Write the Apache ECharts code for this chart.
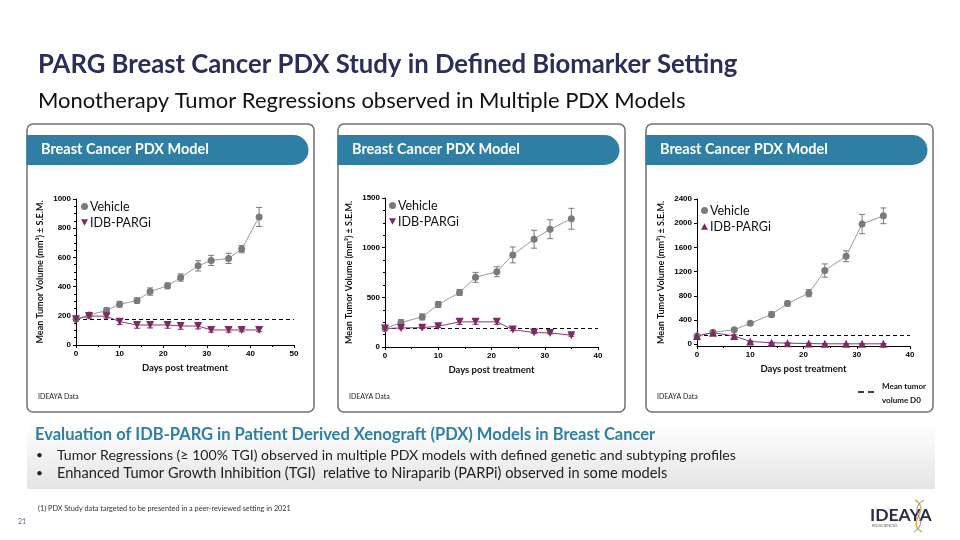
<!DOCTYPE html>
<html><head><meta charset="utf-8">
<script src="https://cdn.jsdelivr.net/npm/echarts@6/dist/echarts.min.js"></script>
<style>html,body{margin:0;padding:0;background:#fff}#c{width:960px;height:540px}</style>
</head><body><div id="c"></div>
<script>
// ---- Data ----
const days1 = [0,3,7,10,14,17,21,24,28,31,35,38,42];
const veh1 = [176,206,236,279,304,366,405,462,542,579,593,657,877];
const veh1Err = [12,12,20,20,18,25,20,25,35,35,35,25,65];
const idb1 = [176,199,197,160,137,137,137,130,130,103,103,103,103];
const idb1Err = [12,15,12,20,22,20,22,22,20,15,15,12,12];
const d0_1 = 176;

const days2 = [0,3,7,10,14,17,21,24,28,31,35];
const veh2 = [185,246,303,428,549,701,758,927,1085,1186,1291];
const veh2Err = [20,30,30,30,30,50,50,80,90,95,105];
const idb2 = [185,192,195,209,253,253,253,175,145,142,118];
const idb2Err = [15,10,10,12,25,25,25,12,10,10,10];
const d0_2 = 185;

const days3 = [0,3,7,10,14,17,21,24,28,31,35];
const veh3 = [136,198,238,345,492,673,843,1217,1454,1986,2122];
const veh3Err = [15,20,20,25,45,40,60,110,90,160,130];
const idb3 = [136,190,136,45,23,17,11,6,6,6,6];
const idb3Err = [10,15,20,10,8,5,5,5,5,5,5];
const d0_3 = 150;

const yTicks3 = [0,400,800,1200,1600,2000,2400];
const seriesNames = ['Vehicle','IDB-PARGi'];

// ---- Style ----
const GRAY = '#7a7a7a', GRAYLINE = '#9a9a9a', PURPLE = '#7b2b62', PURPLELINE = '#8a3a72';
const TEAL = '#2f7fa5', NAVY = '#2b2d5a';
const F = 'Lato, "Open Sans", sans-serif';
const AF = '"Liberation Sans", Arial, sans-serif';

function pts(x, y) { return x.map((d, i) => [d, y[i]]); }
function errPts(x, y, e) { return x.map((d, i) => [d, y[i], e[i]]); }

function errSeries(idx, data, color) {
  return {
    type: 'custom', xAxisIndex: idx, yAxisIndex: idx, silent: true, z: 1,
    data: data,
    renderItem: function (params, api) {
      const x = api.value(0), y = api.value(1), e = api.value(2);
      const top = api.coord([x, y + e]), bot = api.coord([x, y - e]);
      const w = 3;
      return { type: 'group', children: [
        { type: 'line', shape: { x1: top[0], y1: top[1], x2: bot[0], y2: bot[1] }, style: { stroke: color, lineWidth: 1 } },
        { type: 'line', shape: { x1: top[0]-w, y1: top[1], x2: top[0]+w, y2: top[1] }, style: { stroke: color, lineWidth: 1 } },
        { type: 'line', shape: { x1: bot[0]-w, y1: bot[1], x2: bot[0]+w, y2: bot[1] }, style: { stroke: color, lineWidth: 1 } }
      ]};
    }
  };
}

function lineSeries(idx, name, data, color, lineColor, symbol, rotate, d0) {
  const s = {
    type: 'line', name: name, xAxisIndex: idx, yAxisIndex: idx, data: data,
    symbol: symbol, symbolSize: symbol === 'circle' ? 7 : 8, symbolRotate: rotate,
    itemStyle: { color: color }, lineStyle: { color: lineColor, width: 1 },
    z: 3, silent: true, animation: false
  };
  if (d0 !== undefined) {
    s.markLine = { silent: true, symbol: 'none', label: { show: false },
      lineStyle: { type: [4, 3], color: '#000', width: 1.2 },
      data: [{ yAxis: d0 }], z: 2 };
  }
  return s;
}

const grids = [
  { left: 76, top: 199, width: 218, height: 146 },
  { left: 385, top: 198, width: 213, height: 149 },
  { left: 697, top: 199, width: 213, height: 147 }
];

function plain(v) { return String(v); }

function xAxisCfg(idx, max) {
  return {
    type: 'value', gridIndex: idx, min: 0, max: max, interval: 10,
    name: 'Days post treatment', nameLocation: 'middle', nameGap: 18,
    nameTextStyle: { fontFamily: F, fontWeight: 'bold', fontSize: 9.5, color: '#111' },
    axisLine: { show: true, onZero: false, lineStyle: { color: '#000', width: 1 } },
    axisTick: { show: true, length: 3, lineStyle: { color: '#000' } },
    minorTick: { show: true, splitNumber: 2, length: 2, lineStyle: { color: '#000' } },
    axisLabel: { fontFamily: AF, fontWeight: 'bold', fontSize: 8, color: '#000', margin: 5, formatter: plain },
    splitLine: { show: false }, minorSplitLine: { show: false }
  };
}

function yAxisCfg(idx, min, max, interval, custom) {
  const a = {
    type: 'value', gridIndex: idx, min: min, max: max,
    name: 'Mean Tumor Volume (mm³) ± S.E.M.', nameLocation: 'middle', nameGap: 31,
    nameTextStyle: { fontFamily: F, fontSize: 9, color: '#111', fontWeight: 'bold' },
    axisLine: { show: true, onZero: false, lineStyle: { color: '#000', width: 1 } },
    axisTick: { show: true, length: 3, lineStyle: { color: '#000' } },
    minorTick: { show: !custom, splitNumber: 4, length: 2, lineStyle: { color: '#000' } },
    axisLabel: { fontFamily: AF, fontWeight: 'bold', fontSize: 8, color: '#000', margin: 5, formatter: plain },
    splitLine: { show: false }, minorSplitLine: { show: false }
  };
  if (custom) {
    a.axisLabel.customValues = custom;
    a.axisTick.customValues = custom;
  } else {
    a.interval = interval;
  }
  return a;
}

const downTri = 'path://M0,0L10,0L5,9Z';
const upTri = 'path://M5,0L10,9L0,9Z';

function legendCfg(left, top, icon2) {
  return {
    orient: 'vertical', left: left, top: top, itemWidth: 7, itemHeight: 7, itemGap: 3,
    selectedMode: false, padding: 0,
    textStyle: { fontFamily: F, fontSize: 12.5, color: '#111', padding: [0, 0, 0, -3] },
    data: [{ name: seriesNames[0], icon: 'circle', itemStyle: { color: GRAY } },
           { name: seriesNames[1], icon: icon2, itemStyle: { color: PURPLE } }]
  };
}

// ---- Graphics (slide layout) ----
const panelXs = [27, 338, 646];
const graphic = [];
graphic.push({ type: 'text', left: 38, top: 52, style: { text: 'PARG Breast Cancer PDX Study in Defined Biomarker Setting', font: 'bold 25.7px ' + F, fill: NAVY } });
graphic.push({ type: 'text', left: 38, top: 90, style: { text: 'Monotherapy Tumor Regressions observed in Multiple PDX Models', font: '22px ' + F, fill: '#111' } });
panelXs.forEach(function (px, i) {
  graphic.push({ type: 'rect', z: -1, shape: { x: px, y: 124, width: 287, height: 288, r: 6 }, style: { fill: 'none', stroke: '#707070', lineWidth: 1.5 } });
  graphic.push({ type: 'rect', z: 5, shape: { x: px - 0.5, y: 135, width: 282, height: 30, r: [0, 15, 15, 0] }, style: { fill: TEAL } });
  graphic.push({ type: 'text', z: 6, left: px + 14, top: 142, style: { text: 'Breast Cancer PDX Model', font: 'bold 14.5px ' + F, fill: '#fff' } });
  graphic.push({ type: 'text', z: 6, left: px + 11, top: 393, style: { text: 'IDEAYA Data', font: '7px ' + F, fill: '#222' } });
});
// D0 legend for third panel
graphic.push({ type: 'line', shape: { x1: 858, y1: 392, x2: 878, y2: 392 }, style: { stroke: '#000', lineWidth: 1.3, lineDash: [6, 4] } });
graphic.push({ type: 'text', left: 882, top: 379, style: { text: 'Mean tumor\nvolume D0', font: 'bold 8px ' + F, fill: '#111', lineHeight: 14 } });
// bottom band
graphic.push({ type: 'rect', z: -2, shape: { x: 27, y: 424, width: 908, height: 65 }, style: { fill: { type: 'linear', x: 0, y: 0, x2: 0, y2: 1, colorStops: [{ offset: 0, color: '#ffffff' }, { offset: 1, color: '#e4e4e4' }] } } });
graphic.push({ type: 'text', left: 35, top: 426, style: { text: 'Evaluation of IDB-PARG in Patient Derived Xenograft (PDX) Models in Breast Cancer', font: 'bold 16.5px ' + F, fill: TEAL } });
graphic.push({ type: 'text', left: 36, top: 449, style: { text: '•', font: '12px ' + F, fill: '#222' } });
graphic.push({ type: 'text', left: 57, top: 448, style: { text: 'Tumor Regressions (≥ 100% TGI) observed in multiple PDX models with defined genetic and subtyping profiles', font: '14.1px ' + F, fill: '#222' } });
graphic.push({ type: 'text', left: 36, top: 467, style: { text: '•', font: '12px ' + F, fill: '#222' } });
graphic.push({ type: 'text', left: 57, top: 466, style: { text: 'Enhanced Tumor Growth Inhibition (TGI)  relative to Niraparib (PARPi) observed in some models', font: '14.6px ' + F, fill: '#222' } });
graphic.push({ type: 'text', left: 38, top: 505, style: { text: '(1) PDX Study data targeted to be presented in a peer-reviewed setting in 2021', font: '7.3px ' + F, fill: '#333' } });
graphic.push({ type: 'text', left: 18, top: 518, style: { text: '21', font: '7px ' + F, fill: '#4a6a8a' } });
// logo
graphic.push({ type: 'text', left: 870, top: 506, style: { text: 'IDEAYA', font: 'bold 17.5px ' + F, fill: '#2b2d44' } });
graphic.push({ type: 'text', left: 872, top: 524, style: { text: 'BIOSCIENCES', font: '4px ' + F, fill: '#666' } });
graphic.push({ type: 'bezierCurve', shape: { x1: 915, y1: 500, x2: 922, y2: 532, cpx1: 932, cpy1: 510, cpx2: 905, cpy2: 522 }, style: { stroke: '#e0b050', lineWidth: 1.5, fill: 'none' } });
graphic.push({ type: 'bezierCurve', shape: { x1: 924, y1: 500, x2: 914, y2: 532, cpx1: 905, cpy1: 512, cpx2: 932, cpy2: 520 }, style: { stroke: '#7a8a9a', lineWidth: 1, fill: 'none' } });

const option = {
  backgroundColor: '#fff',
  animation: false,
  grid: grids,
  xAxis: [xAxisCfg(0, 50), xAxisCfg(1, 40), xAxisCfg(2, 40)],
  yAxis: [yAxisCfg(0, 0, 1000, 200), yAxisCfg(1, 0, 1500, 500), yAxisCfg(2, -30, 2400, null, yTicks3)],
  legend: [legendCfg(81, 200, downTri), legendCfg(389, 199, downTri), legendCfg(701, 204, upTri)],
  series: [
    errSeries(0, errPts(days1, veh1, veh1Err), GRAY),
    errSeries(0, errPts(days1, idb1, idb1Err), PURPLE),
    lineSeries(0, seriesNames[0], pts(days1, veh1), GRAY, GRAYLINE, 'circle', 0, d0_1),
    lineSeries(0, seriesNames[1], pts(days1, idb1), PURPLE, PURPLELINE, 'triangle', 180),
    errSeries(1, errPts(days2, veh2, veh2Err), GRAY),
    errSeries(1, errPts(days2, idb2, idb2Err), PURPLE),
    lineSeries(1, seriesNames[0], pts(days2, veh2), GRAY, GRAYLINE, 'circle', 0, d0_2),
    lineSeries(1, seriesNames[1], pts(days2, idb2), PURPLE, PURPLELINE, 'triangle', 180),
    errSeries(2, errPts(days3, veh3, veh3Err), GRAY),
    errSeries(2, errPts(days3, idb3, idb3Err), PURPLE),
    lineSeries(2, seriesNames[0], pts(days3, veh3), GRAY, GRAYLINE, 'circle', 0, d0_3),
    lineSeries(2, seriesNames[1], pts(days3, idb3), PURPLE, PURPLELINE, 'triangle', 0)
  ],
  graphic: graphic
};
const chart = echarts.init(document.getElementById('c'), null, { renderer: 'canvas' });
chart.setOption(option);
</script></body></html>
